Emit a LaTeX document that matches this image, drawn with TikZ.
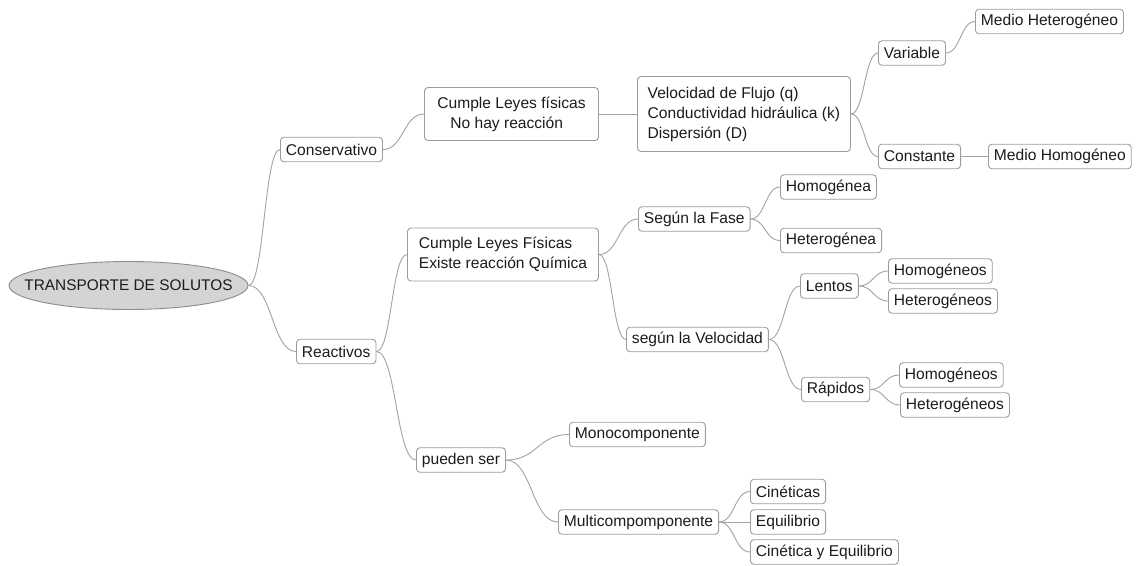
\documentclass[tikz,border=0pt]{standalone}
\usepackage{fontspec}
\setmainfont{Liberation Sans}
\usetikzlibrary{shapes.geometric,calc}

\definecolor{boxline}{HTML}{9C9C9C}
\definecolor{linkgray}{HTML}{A2A2A2}
\definecolor{rootfill}{HTML}{D4D4D4}
\definecolor{rootline}{HTML}{8C8C8C}
\definecolor{txt}{HTML}{1C1C1C}

\begin{document}
\begin{tikzpicture}[x=1pt,y=-1pt,line width=0.9pt,
  main node/.style={draw=boxline,rounded corners=3.5pt,fill=white,text=txt,
    font=\fontsize{15.6}{20}\selectfont,inner xsep=5.5pt,inner ysep=0pt,
    minimum height=24.5pt,anchor=west},
  multi node/.style={main node,align=left},
  root node/.style={ellipse,draw=rootline,fill=rootfill,text=txt,
    font=\fontsize{15.4}{20}\selectfont,minimum width=239pt,minimum height=48pt,inner sep=0pt},
  branch/.style={every edge/.style={draw=linkgray,
    to path={let \p1=(\tikztostart), \p2=(\tikztotarget) in
      .. controls ({(\x1+\x2)/2},\y1) and ({(\x1+\x2)/2},\y2) .. (\tikztotarget)}}}]

  \useasboundingbox (0,0) rectangle (1147,565);

  \node[root node] (root) at (128.5,285.5) {\makebox[0pt]{TRANSPORTE DE SOLUTOS}};

  % conservativo
  \node[main node] (cons) at (280,149.5) {Conservativo};
  \node[multi node,minimum width=174pt,minimum height=53pt] (fis) at (424,114)
    {Cumple Leyes físicas\\\hspace*{13pt}No hay reacción};
  \node[multi node,minimum width=213pt,minimum height=75pt] (vel) at (637,114)
    {Velocidad de Flujo (q)\\Conductividad hidráulica (k)\\Dispersión (D)};
  \node[main node] (var) at (878,53) {Variable};
  \node[main node] (medhet) at (975,21.5) {Medio Heterogéneo};
  \node[main node] (const) at (878,156.5) {Constante};
  \node[main node] (medhom) at (988,156.5) {Medio Homogéneo};

  % reactivos
  \node[main node] (reac) at (296,351.5) {Reactivos};
  \node[multi node,minimum width=191pt,minimum height=53pt] (quim) at (407,254.5)
    {Cumple Leyes Físicas\\Existe reacción Química};
  \node[main node] (fase) at (638,219) {Según la Fase};
  \node[main node] (homa) at (780,187) {Homogénea};
  \node[main node] (heta) at (780,240.5) {Heterogénea};
  \node[main node] (veloc) at (626,339.5) {según la Velocidad};
  \node[main node] (lentos) at (800,286) {Lentos};
  \node[main node] (homl) at (888,271) {Homogéneos};
  \node[main node] (hetl) at (888,301) {Heterogéneos};
  \node[main node] (rap) at (801,389.5) {Rápidos};
  \node[main node] (homr) at (899,375) {Homogéneos};
  \node[main node] (hetr) at (900,405) {Heterogéneos};

  \node[main node] (pueden) at (416,460) {pueden ser};
  \node[main node] (mono) at (569,434.5) {Monocomponente};
  \node[main node] (multi) at (558,522) {Multicompomponente};
  \node[main node] (cin) at (750,491.5) {Cinéticas};
  \node[main node] (equi) at (750,522) {Equilibrio};
  \node[main node] (cineq) at (750,552) {Cinética y Equilibrio};

  \path[branch]
    (root.east) edge (cons.west)
                edge (reac.west)
    (cons.east) edge (fis.west)
    (fis.east) edge (vel.west)
    (vel.east) edge (var.west)
               edge (const.west)
    (var.east) edge (medhet.west)
    (const.east) edge (medhom.west)
    (reac.east) edge (quim.west)
                edge (pueden.west)
    (quim.east) edge (fase.west)
                edge (veloc.west)
    (fase.east) edge (homa.west)
                edge (heta.west)
    (veloc.east) edge (lentos.west)
                 edge (rap.west)
    (lentos.east) edge (homl.west)
                  edge (hetl.west)
    (rap.east) edge (homr.west)
               edge (hetr.west)
    (pueden.east) edge (mono.west)
                  edge (multi.west)
    (multi.east) edge (cin.west)
                 edge (equi.west)
                 edge (cineq.west);

\end{tikzpicture}
\end{document}
